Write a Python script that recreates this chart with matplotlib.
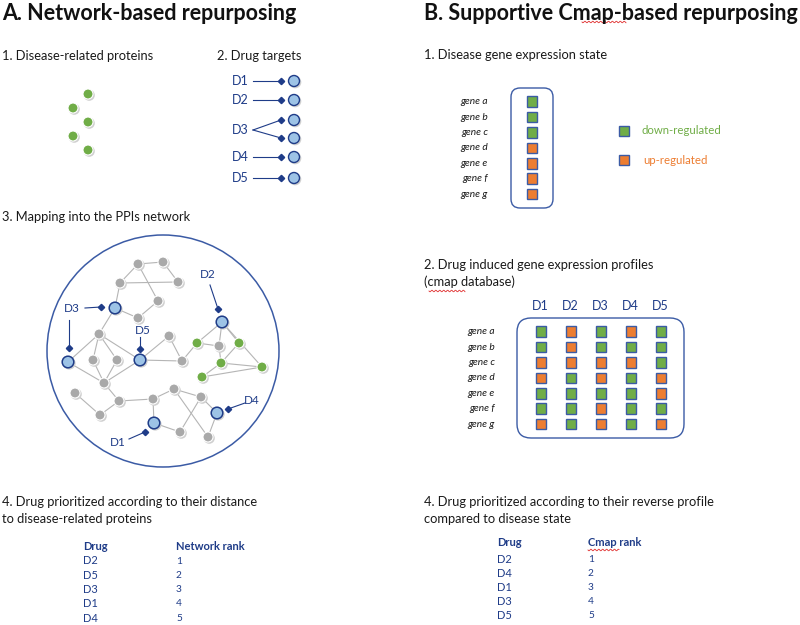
import matplotlib
matplotlib.use("Agg")
import matplotlib.pyplot as plt
from matplotlib.patches import Circle, Rectangle, FancyBboxPatch
import numpy as np

plt.rcParams['font.family'] = ['Lato', 'DejaVu Sans']

# colours
GREEN = "#70AD47"
ORANGE = "#ED7D31"
SQ_EDGE = "#3B5BA5"
NAVY = "#1F3C88"
GRAY = "#A9A9A9"
LIGHTBLUE = "#9DC3E6"
TEXT = "#1a1a1a"

# ---- data --------------------------------------------------------------
disease_proteins = [(88, 94), (73, 108), (88, 122), (73, 136), (88, 150)]

target_drugs = ["D1", "D2", "D3", "D4", "D5"]
target_label_y = [81, 100, 130, 157, 178]
target_rows = [[81], [100], [120, 138], [157], [178]]

gray_nodes = [(138, 264), (163, 262), (120, 283), (178, 282), (158, 301),
              (138, 318), (99, 334), (169, 336), (93, 360), (117, 360),
              (182, 361), (219, 346), (104, 383), (75, 393), (100, 415),
              (119, 401), (153, 399), (174, 389), (201, 397), (180, 432),
              (208, 437)]
blue_nodes = [(115, 308), (68, 362), (140, 360), (222, 322), (217, 413), (154, 423)]
green_nodes = [(197, 343), (239, 343), (221, 363), (262, 367), (202, 377)]

edges = [("g0", "g1"), ("g0", "g2"), ("g0", "g4"), ("g1", "g3"), ("g2", "g3"),
         ("g2", "b0"), ("b0", "g5"), ("g4", "g5"), ("b0", "g6"), ("g6", "b1"),
         ("g6", "g8"), ("g6", "g9"), ("g6", "b2"), ("b1", "g12"), ("g8", "g12"),
         ("g9", "g12"), ("g12", "b2"), ("b2", "g7"), ("g7", "g10"), ("b2", "g10"),
         ("g10", "n0"), ("n0", "b3"), ("n0", "g11"), ("b3", "g11"), ("b3", "n1"),
         ("b3", "n3"), ("n1", "n2"), ("n2", "n3"), ("n2", "n4"), ("n4", "n3"),
         ("g11", "n2"), ("g12", "g15"), ("g13", "g14"), ("g14", "g15"),
         ("g15", "g16"), ("g16", "g17"), ("g17", "g18"), ("g16", "b5"),
         ("b5", "g19"), ("g17", "g20"), ("g18", "g19"), ("g18", "b4"), ("b4", "g20")]

# drug label position, line start, diamond position
ppi_drugs = ["D3", "D3", "D5", "D2", "D4", "D1"]
ppi_label_xy = [(72, 309), (None, None), (143, 331), (208, 275), (252, 400), (118, 442)]
ppi_line_start = [(85, 308), (69, 320), (140, 337), (210, 285), (245, 403), (129, 439)]
ppi_diamond = [(101, 307), (69, 348), (140, 349), (218, 309), (228, 409), (145, 432)]

genes = ["gene a", "gene b", "gene c", "gene d", "gene e", "gene f", "gene g"]
disease_state = ["down", "down", "down", "up", "up", "up", "up"]

cmap_drugs = ["D1", "D2", "D3", "D4", "D5"]
cmap_profiles = [  # rows = genes, cols = drugs
    ["down", "up", "down", "up", "down"],
    ["down", "up", "down", "down", "down"],
    ["up", "up", "up", "up", "down"],
    ["up", "down", "up", "down", "up"],
    ["down", "down", "down", "down", "up"],
    ["down", "down", "up", "down", "down"],
    ["up", "down", "up", "down", "up"],
]

network_rank_drugs = ["D2", "D5", "D3", "D1", "D4"]
cmap_rank_drugs = ["D2", "D4", "D1", "D3", "D5"]
ranks = [1, 2, 3, 4, 5]

state_color = {"down": GREEN, "up": ORANGE}

BODY = 9.3
GENE = 7.3
TAB = 8

# ---- figure ------------------------------------------------------------
fig = plt.figure(figsize=(8, 6.25), dpi=100)
ax = fig.add_axes([0, 0, 1, 1])
ax.set_xlim(0, 800)
ax.set_ylim(625, 0)
ax.axis("off")


def node(x, y, r, fc, ec="white", lw=0.8, z=3):
    ax.add_patch(Circle((x + 1.2, y + 1.2), r + 0.6, fc="#d0d0d0", ec="none", zorder=z - 1))
    ax.add_patch(Circle((x, y), r, fc=fc, ec=ec, lw=lw, zorder=z))


def square(x, y, fc, s=10.5):
    ax.add_patch(Rectangle((x - s / 2, y - s / 2), s, s, fc=fc, ec=SQ_EDGE, lw=1.0, zorder=3))


def squiggle(x0, x1, y):
    xs = np.linspace(x0, x1, 60)
    ax.plot(xs, y + 0.8 * np.sin((xs - x0) * 1.6), color="#e03030", lw=0.6)


# titles
ax.text(2, 13, "A. Network-based repurposing", fontsize=15.5, fontweight="bold",
        va="center", ha="left", color="#111")
ax.text(424, 13, "B. Supportive Cmap-based repurposing", fontsize=15.5, fontweight="bold",
        va="center", ha="left", color="#111")
squiggle(582, 626, 22)

# A.1 disease-related proteins
ax.text(2, 56, "1. Disease-related proteins", fontsize=BODY, va="center", color=TEXT)
for x, y in disease_proteins:
    node(x, y, 5, GREEN)

# A.2 drug targets
ax.text(217, 56, "2. Drug targets", fontsize=BODY, va="center", color=TEXT)
for d, ly, ys in zip(target_drugs, target_label_y, target_rows):
    ax.text(232, ly, d, fontsize=9, color=NAVY, va="center")
    for y in ys:
        ax.plot([253, 281], [ly, y], color=NAVY, lw=0.8)
        ax.plot(281, y, marker="D", ms=3.2, color=NAVY)
        node(294, y, 5.5, LIGHTBLUE, ec=NAVY, lw=1.0)

# A.3 network
ax.text(2, 217, "3. Mapping into the PPIs network", fontsize=BODY, va="center", color=TEXT)
ax.add_patch(Circle((163, 351), 116, fc="white", ec=SQ_EDGE, lw=1.1, zorder=1))
pos = {}
for i, p in enumerate(gray_nodes):
    pos["g%d" % i] = p
for i, p in enumerate(blue_nodes):
    pos["b%d" % i] = p
for i, p in enumerate(green_nodes):
    pos["n%d" % i] = p
for a, b in edges:
    ax.plot([pos[a][0], pos[b][0]], [pos[a][1], pos[b][1]], color="#b5b5b5", lw=0.8, zorder=2)
for x, y in gray_nodes:
    node(x, y, 5, GRAY)
for x, y in green_nodes:
    node(x, y, 5, GREEN)
for x, y in blue_nodes:
    node(x, y, 5.8, LIGHTBLUE, ec=NAVY, lw=1.1)
for d, lxy, ls, dm in zip(ppi_drugs, ppi_label_xy, ppi_line_start, ppi_diamond):
    if lxy[0] is not None:
        ax.text(lxy[0], lxy[1], d, fontsize=8.5, color=NAVY, va="center", ha="center", zorder=5)
    ax.plot([ls[0], dm[0]], [ls[1], dm[1]], color=NAVY, lw=0.8, zorder=4)
    ax.plot(dm[0], dm[1], marker="D", ms=3.2, color=NAVY, zorder=5)

# A.4 network ranking
ax.text(2, 502, "4. Drug prioritized according to their distance", fontsize=BODY, va="center", color=TEXT)
ax.text(2, 519, "to disease-related proteins", fontsize=BODY, va="center", color=TEXT)
ax.text(83, 547, "Drug", fontsize=TAB, fontweight="bold", color=NAVY, va="center")
ax.text(176, 547, "Network rank", fontsize=TAB, fontweight="bold", color=NAVY, va="center")
for i, (d, r) in enumerate(zip(network_rank_drugs, ranks)):
    y = 561 + i * 14.3
    ax.text(83, y, d, fontsize=TAB, color=NAVY, va="center")
    ax.text(176, y, str(r), fontsize=7.3, color=NAVY, va="center")

# B.1 disease gene expression state
ax.text(424, 55, "1. Disease gene expression state", fontsize=BODY, va="center", color=TEXT)
ax.add_patch(FancyBboxPatch((511, 88), 42, 120, boxstyle="round,pad=0,rounding_size=9",
                            fc="white", ec=SQ_EDGE, lw=1.0, zorder=2))
for i, (g, s) in enumerate(zip(genes, disease_state)):
    y = 101.7 + i * 15.4
    ax.text(488, y, g, fontsize=GENE, style="italic", ha="right", va="center", color=TEXT)
    square(532, y, state_color[s])
square(624, 131, GREEN)
ax.text(641, 131, "down-regulated", fontsize=8.2, color=GREEN, va="center")
square(624, 160, ORANGE)
ax.text(643, 160, "up-regulated", fontsize=8.2, color=ORANGE, va="center")

# B.2 cmap profiles
ax.text(424, 265, "2. Drug induced gene expression profiles", fontsize=BODY, va="center", color=TEXT)
ax.text(424, 282, "(cmap database)", fontsize=BODY, va="center", color=TEXT)
squiggle(429, 465, 291)
ax.add_patch(FancyBboxPatch((517, 318), 167, 120, boxstyle="round,pad=0,rounding_size=14",
                            fc="white", ec=SQ_EDGE, lw=1.0, zorder=2))
for j, d in enumerate(cmap_drugs):
    ax.text(540 + j * 30, 306, d, fontsize=9, color=NAVY, ha="center", va="center")
for i, g in enumerate(genes):
    y = 331.7 + i * 15.4
    ax.text(495, y, g, fontsize=GENE, style="italic", ha="right", va="center", color=TEXT)
    for j, s in enumerate(cmap_profiles[i]):
        square(541 + j * 30, y, state_color[s])

# B.4 cmap ranking
ax.text(424, 502, "4. Drug prioritized according to their reverse profile", fontsize=BODY, va="center", color=TEXT)
ax.text(424, 519, "compared to disease state", fontsize=BODY, va="center", color=TEXT)
ax.text(497, 543, "Drug", fontsize=TAB, fontweight="bold", color=NAVY, va="center")
ax.text(588, 543, "Cmap rank", fontsize=TAB, fontweight="bold", color=NAVY, va="center")
squiggle(588, 619, 550)
for i, (d, r) in enumerate(zip(cmap_rank_drugs, ranks)):
    y = 559.3 + i * 14.1
    ax.text(497, y, d, fontsize=TAB, color=NAVY, va="center")
    ax.text(588, y, str(r), fontsize=7.3, color=NAVY, va="center")

fig.savefig("out.png", dpi=100, facecolor="white")
